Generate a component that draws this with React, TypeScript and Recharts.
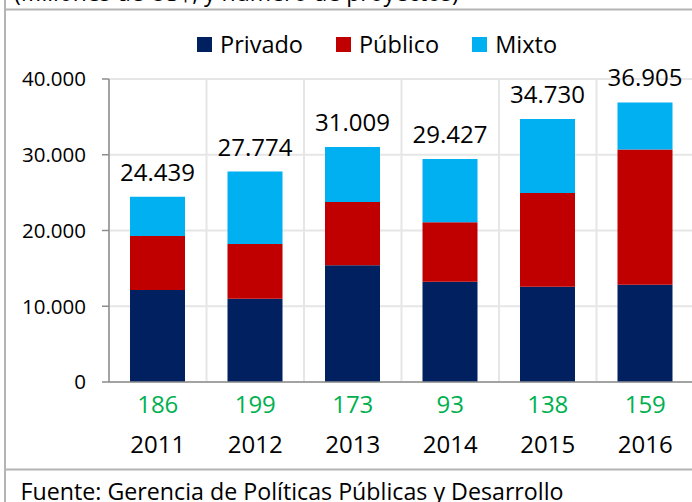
import * as React from 'react';
import { Bar, BarChart, CartesianGrid, LabelList, Legend, XAxis, YAxis } from 'recharts';

const years = ['2011', '2012', '2013', '2014', '2015', '2016'];
const seriesNames = ['Privado', 'Público', 'Mixto'];
const privado = [12130, 10980, 15400, 13230, 12570, 12830];
const publico = [7140, 7230, 8370, 7850, 12390, 17860];
const mixto = [5169, 9564, 7239, 8347, 9770, 6215];
const totales = [24439, 27774, 31009, 29427, 34730, 36905];
const proyectos = [186, 199, 173, 93, 138, 159];
const yTicks = [0, 10000, 20000, 30000, 40000];

const data = years.map((year, i) => ({
    year,
    Privado: privado[i],
    Publico: publico[i],
    Mixto: mixto[i],
    total: totales[i],
}));

const FONT = '"Open Sans", sans-serif';
const fmt = (v: number) => String(v).replace(/\B(?=(\d{3})+(?!\d))/g, '.');

const YearTick = (props: any) => {
    const { x, y, payload } = props;
    const i = years.indexOf(payload.value);
    return (
        <g>
            <text x={x} y={y + 31} textAnchor="middle" fill="#00B050" fontSize={24} fontFamily={FONT}>
                {proyectos[i]}
            </text>
            <text x={x} y={y + 71} textAnchor="middle" fill="#000" fontSize={24} fontFamily={FONT}>
                {payload.value}
            </text>
        </g>
    );
};

const LegendContent = (props: any) => {
    const items = [...(props.payload || [])].sort(
        (a: any, b: any) => seriesNames.indexOf(a.value) - seriesNames.indexOf(b.value)
    );
    return (
        <div style={{ display: 'flex', alignItems: 'center', fontFamily: FONT, fontSize: 23.5, color: '#000' }}>
            {items.map((p: any) => (
                <div key={p.value} style={{ display: 'flex', alignItems: 'center', marginRight: 33 }}>
                    <span style={{ width: 15, height: 15, background: p.color, marginRight: 8, display: 'inline-block' }} />
                    <span style={{ lineHeight: '22px' }}>{p.value}</span>
                </div>
            ))}
        </div>
    );
};

const gridX = ({ xAxis, offset }: any) => {
    const s = xAxis?.scale;
    if (typeof s === 'function') {
        const pts = years.map((y) => s(y)).filter((v: any) => typeof v === 'number' && !isNaN(v));
        if (pts.length) return pts;
    }
    return years.map((_, i) => offset.left + (i * offset.width) / years.length);
};

export default function App() {
    return (
        <div style={{ position: 'relative', width: 692, height: 502, overflow: 'hidden', background: '#fff', fontFamily: FONT }}>
            <style>{'body{margin:0}'}</style>
            <BarChart
                width={700}
                height={468}
                data={data}
                margin={{ top: 79, right: 6, bottom: 6, left: 0 }}
                barSize={55}
            >
                <CartesianGrid stroke="#e6e6e6" strokeWidth={2} verticalCoordinatesGenerator={gridX} />
                <XAxis
                    dataKey="year"
                    height={80}
                    tickSize={0}
                    tickMargin={0}
                    tickLine={false}
                    axisLine={{ stroke: '#8c8c8c', strokeWidth: 1.5 }}
                    tick={<YearTick />}
                    interval={0}
                />
                <YAxis
                    width={109}
                    domain={[0, 40000]}
                    ticks={yTicks}
                    tickSize={7}
                    tickMargin={16}
                    tickFormatter={fmt}
                    axisLine={{ stroke: '#8c8c8c', strokeWidth: 1.5 }}
                    tickLine={{ stroke: '#8c8c8c', strokeWidth: 1.5 }}
                    tick={{ fill: '#000', fontSize: 20.5, fontFamily: FONT }}
                />
                <Legend
                    layout="horizontal"
                    verticalAlign="middle"
                    align="center"
                    content={<LegendContent />}
                    wrapperStyle={{ top: 33, left: 197, width: 440 }}
                />
                <Bar dataKey="Privado" name="Privado" stackId="a" fill="#002060" isAnimationActive={false} />
                <Bar dataKey="Publico" name="Público" stackId="a" fill="#C00000" isAnimationActive={false} />
                <Bar dataKey="Mixto" name="Mixto" stackId="a" fill="#00B0F0" isAnimationActive={false}>
                    <LabelList
                        dataKey="total"
                        position="top"
                        offset={16}
                        formatter={(v: any) => fmt(Number(v))}
                        style={{ fill: '#000', fontSize: 24, fontFamily: FONT }}
                    />
                </Bar>
            </BarChart>
            <svg
                width={692}
                height={502}
                style={{ position: 'absolute', left: 0, top: 0, pointerEvents: 'none' }}
            >
                <text x={14} y={1} fontSize={23} fontFamily={FONT} fill="#000">
                    (Millones de US$, y número de proyectos)
                </text>
                <line x1={5} y1={9.5} x2={692} y2={9.5} stroke="#b4b4b4" strokeWidth={2} />
                <line x1={5} y1={0} x2={5} y2={502} stroke="#b4b4b4" strokeWidth={2} />
                <line x1={5} y1={469.5} x2={692} y2={469.5} stroke="#b4b4b4" strokeWidth={2} />
                <text x={20.5} y={500} fontSize={23} fontFamily={FONT} fill="#000" textLength={543} lengthAdjust="spacingAndGlyphs">
                    Fuente: Gerencia de Políticas Públicas y Desarrollo
                </text>
            </svg>
        </div>
    );
}
